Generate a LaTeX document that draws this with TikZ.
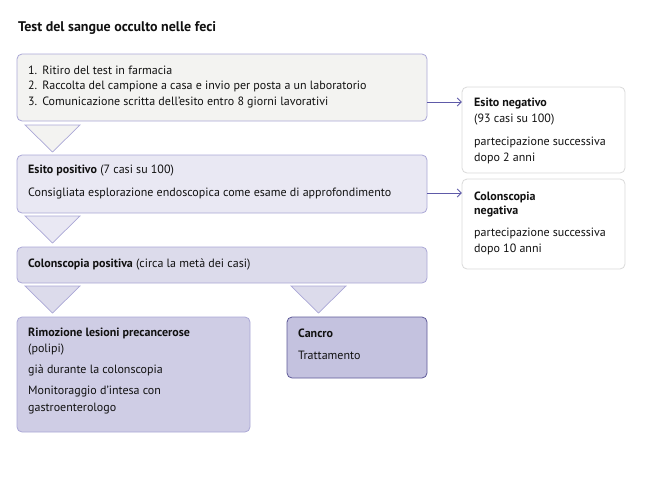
\documentclass[tikz,border=0pt]{standalone}
\usepackage{fontspec}
\setmainfont{PT Sans}
\usetikzlibrary{arrows.meta,calc}
\definecolor{bord}{HTML}{AAA7D6}
\definecolor{fillA}{HTML}{F3F3F1}
\definecolor{fillB}{HTML}{E9E8F3}
\definecolor{fillC}{HTML}{DCDBEB}
\definecolor{fillD}{HTML}{CFCDE5}
\definecolor{fillE}{HTML}{C4C2DF}
\definecolor{bordE}{HTML}{5E5A99}
\definecolor{greyb}{HTML}{DADADA}
\definecolor{arr}{HTML}{5E5AA8}
\definecolor{txt}{HTML}{111111}
\begin{document}
\begin{tikzpicture}[x=1pt,y=-1pt,
  box/.style={draw=bord,line width=0.8pt,rounded corners=5pt},
  wbox/.style={draw=greyb,line width=0.8pt,fill=white,rounded corners=5pt},
  tx/.style={anchor=west,inner sep=0pt,text=txt,font=\fontsize{12}{14}\selectfont},
  bt/.style={tx,font=\fontsize{12}{14}\selectfont\bfseries},
  tri/.style={draw=bord,line width=0.7pt},
  con/.style={draw=arr,line width=0.8pt,-{Straight Barb[length=4pt,width=8pt]}}]
\useasboundingbox (0,0) rectangle (650,490);
% title
\node[anchor=west,inner sep=0pt,text=txt,font=\fontsize{14}{16}\selectfont\bfseries] (title) at (18,28) {Test del sangue occulto nelle feci};
% boxes
\draw[box,fill=fillA] (17,54) rectangle (427,121);
\node[inner sep=0pt,minimum width=410pt,minimum height=67pt] (b1) at (222,87.5) {};
\draw[box,fill=fillB] (17,155) rectangle (427,213);
\node[inner sep=0pt,minimum width=410pt,minimum height=58pt] (b2) at (222,184) {};
\draw[box,fill=fillC] (17,247) rectangle (427,283);
\node[inner sep=0pt,minimum width=410pt,minimum height=36pt] (b3) at (222,265) {};
\draw[box,fill=fillD] (17,317) rectangle (250,432);
\node[inner sep=0pt,minimum width=233pt,minimum height=115pt] (b4) at (133.5,374.5) {};
\draw[box,draw=bordE,fill=fillE] (287,317) rectangle (427,378);
\node[inner sep=0pt,minimum width=140pt,minimum height=61pt] (b5) at (357,347.5) {};
\draw[wbox] (462,87) rectangle (625,173);
\node[inner sep=0pt,minimum width=163pt,minimum height=86pt] (n1) at (543.5,130) {};
\draw[wbox] (462,179) rectangle (625,269);
\node[inner sep=0pt,minimum width=163pt,minimum height=90pt] (n2) at (543.5,224) {};
% triangles
\draw[tri,fill=fillA] (25,125) -- (80,125) -- (52.5,152) -- cycle;
\draw[tri,fill=fillB] (25,216) -- (80,216) -- (52.5,243) -- cycle;
\draw[tri,fill=fillC] (25,286) -- (80,286) -- (52.5,313) -- cycle;
\draw[tri,fill=fillC] (291,286) -- (346,286) -- (318.5,313) -- cycle;
% connectors
\draw[con] (b1.east |- 0,102) -- (n1.west |- 0,102);
\draw[con] (b2.east |- 0,193) -- (n2.west |- 0,193);
% texts box1
\node[tx] (t11) at (28,70) {1.\hspace{5pt}Ritiro del test in farmacia};
\node[tx] (t12) at (28,86) {2.\hspace{5pt}Raccolta del campione a casa e invio per posta a un laboratorio};
\node[tx] (t13) at (28,102) {3.\hspace{5pt}Comunicazione scritta dell’esito entro 8 giorni lavorativi};
% box2
\node[tx] (t21) at (28,171) {\textbf{Esito positivo} (7 casi su 100)};
\node[tx] (t22) at (28,193) {Consigliata esplorazione endoscopica come esame di approfondimento};
% box3
\node[tx] (t31) at (28,264) {\textbf{Colonscopia positiva} (circa la metà dei casi)};
% box4
\node[bt] (t41) at (28,333) {Rimozione lesioni precancerose};
\node[tx] (t42) at (28,350) {(polipi)};
\node[tx] (t43) at (28,370) {già durante la colonscopia};
\node[tx] (t44) at (28,392) {Monitoraggio d’intesa con};
\node[tx] (t45) at (28,409) {gastroenterologo};
% cancer
\node[bt] (t51) at (298,333) {Cancro};
\node[tx] (t52) at (298,355) {Trattamento};
% right 1
\node[bt] (t61) at (474,104) {Esito negativo};
\node[tx] (t62) at (474,120) {(93 casi su 100)};
\node[tx] (t63) at (474,142) {partecipazione successiva};
\node[tx] (t64) at (474,158) {dopo 2 anni};
% right 2
\node[bt] (t71) at (474,197) {Colonscopia};
\node[bt] (t72) at (474,212) {negativa};
\node[tx] (t73) at (474,233) {partecipazione successiva};
\node[tx] (t74) at (474,249) {dopo 10 anni};
\end{tikzpicture}
\end{document}
